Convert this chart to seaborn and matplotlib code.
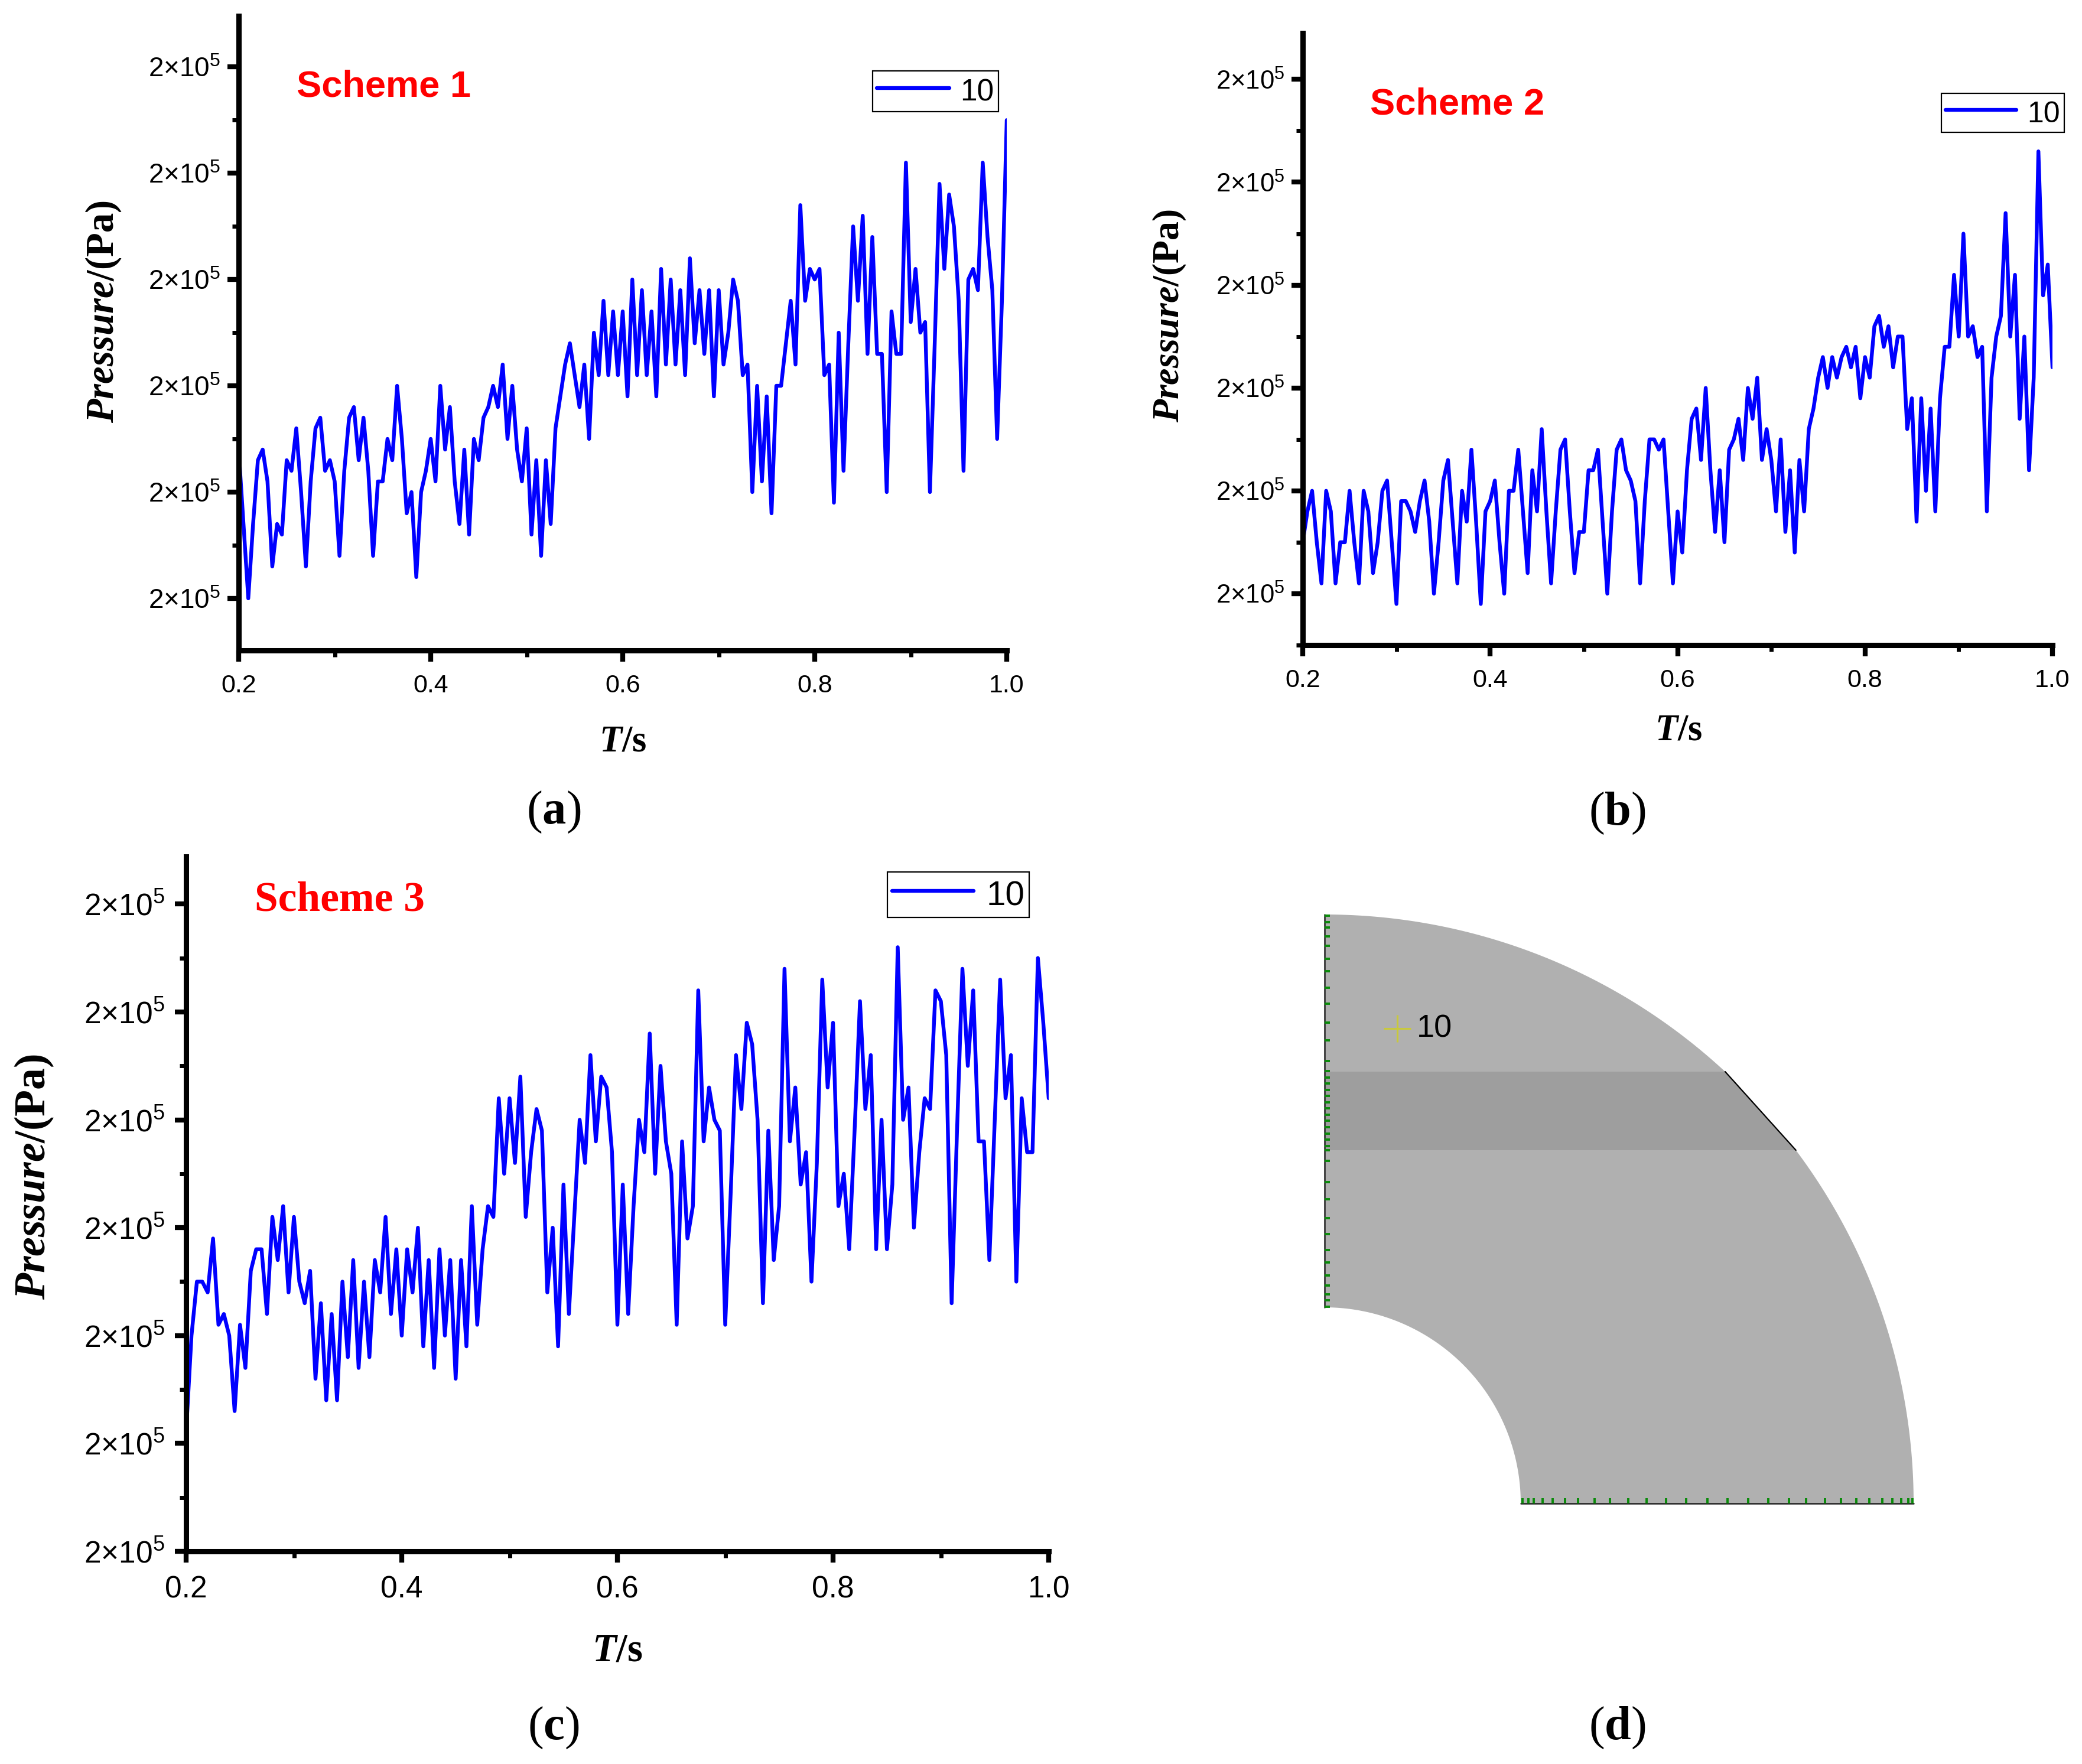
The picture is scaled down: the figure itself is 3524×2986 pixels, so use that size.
import matplotlib
matplotlib.use("Agg")
import matplotlib.pyplot as plt
from matplotlib.patches import Polygon
from matplotlib.ticker import FixedLocator
import numpy as np
import seaborn as sns

W, H = 3524, 2986

# pressure, in 100 Pa above the lowest labelled tick
pressure_a = [14, 7, 0, 7, 13, 14, 11, 3, 7, 6,
              13, 12, 16, 10, 3, 11, 16, 17, 12, 13,
              11, 4, 12, 17, 18, 13, 17, 12, 4, 11,
              11, 15, 13, 20, 15, 8, 10, 2, 10, 12,
              15, 11, 20, 14, 18, 11, 7, 14, 6, 15,
              13, 17, 18, 20, 18, 22, 15, 20, 14, 11,
              16, 6, 13, 4, 13, 7, 16, 19, 22, 24,
              21, 18, 22, 15, 25, 21, 28, 21, 27, 21,
              27, 19, 30, 21, 29, 21, 27, 19, 31, 22,
              30, 22, 29, 21, 32, 24, 29, 23, 29, 19,
              29, 22, 25, 30, 28, 21, 22, 10, 20, 11,
              19, 8, 20, 20, 24, 28, 22, 37, 28, 31,
              30, 31, 21, 22, 9, 25, 12, 24, 35, 28,
              36, 23, 34, 23, 23, 10, 27, 23, 23, 41,
              26, 31, 25, 26, 10, 24, 39, 31, 38, 35,
              28, 12, 30, 31, 29, 41, 34, 29, 15, 28, 45]
pressure_b = [5, 8, 10, 5, 1, 10, 8, 1, 5, 5,
              10, 5, 1, 10, 8, 2, 5, 10, 11, 5,
              -1, 9, 9, 8, 6, 9, 11, 7, 0, 5,
              11, 13, 7, 1, 10, 7, 14, 7, -1, 8,
              9, 11, 5, 0, 10, 10, 14, 8, 2, 12,
              8, 16, 8, 1, 8, 14, 15, 8, 2, 6,
              6, 12, 12, 14, 7, 0, 8, 14, 15, 12,
              11, 9, 1, 9, 15, 15, 14, 15, 8, 1,
              8, 4, 12, 17, 18, 13, 20, 12, 6, 12,
              5, 14, 15, 17, 13, 20, 17, 21, 13, 16,
              13, 8, 15, 6, 12, 4, 13, 8, 16, 18,
              21, 23, 20, 23, 21, 23, 24, 22, 24, 19,
              23, 21, 26, 27, 24, 26, 22, 25, 25, 16,
              19, 7, 19, 10, 18, 8, 19, 24, 24, 31,
              25, 35, 25, 26, 23, 24, 8, 21, 25, 27,
              37, 25, 31, 17, 25, 12, 21, 43, 29, 32, 22]
pressure_c = [11, 20, 25, 25, 24, 29, 21, 22, 20, 13,
              21, 17, 26, 28, 28, 22, 31, 27, 32, 24,
              31, 25, 23, 26, 16, 23, 14, 22, 14, 25,
              18, 27, 17, 25, 18, 27, 24, 31, 22, 28,
              20, 28, 24, 30, 19, 27, 17, 28, 20, 27,
              16, 27, 19, 32, 21, 28, 32, 31, 42, 35,
              42, 36, 44, 31, 37, 41, 39, 24, 30, 19,
              34, 22, 31, 40, 36, 46, 38, 44, 43, 37,
              21, 34, 22, 32, 40, 37, 48, 35, 45, 38,
              35, 21, 38, 29, 32, 52, 38, 43, 40, 39,
              21, 33, 46, 41, 49, 47, 40, 23, 39, 27,
              32, 54, 38, 43, 34, 37, 25, 36, 53, 43,
              49, 32, 35, 28, 39, 51, 41, 46, 28, 40,
              28, 34, 56, 40, 43, 30, 37, 42, 41, 52,
              51, 46, 23, 39, 54, 45, 52, 38, 38, 27,
              40, 53, 42, 46, 25, 42, 37, 37, 55, 49, 42]
time_s = np.linspace(0.2, 1.0, 161)

x_major = [0.2, 0.4, 0.6, 0.8, 1.0]
x_minor = [0.3, 0.5, 0.7, 0.9]
x_labels = ["0.2", "0.4", "0.6", "0.8", "1.0"]
y_label = "2×10$^{5}$"
legend_label = "10"

# panel d, mesh seeds along the two cut edges (distance from the centre)
seeds_left = [995, 984, 975, 960, 944, 922, 901, 873, 846, 814, 784, 749,
              732, 721, 711, 700, 690, 679, 669, 658, 648, 637, 626, 616, 605, 598,
              580, 544, 515, 483, 456, 429, 408, 386, 369, 354, 344, 333]
seeds_bottom = [335, 345, 354, 369, 386, 407, 429, 457, 483, 514, 545, 578, 612, 648,
                682, 717, 751, 786, 815, 847, 874, 900, 922, 944, 961, 976, 988, 995]
r_outer, r_inner = 997, 332
band_low, band_high = 598, 731
probe_x, probe_y = 123, 804

sns.set_theme(style="ticks")
plt.rcParams["font.family"] = ["Liberation Sans", "DejaVu Sans"]
plt.rcParams["mathtext.fontset"] = "custom"
plt.rcParams["mathtext.rm"] = "Liberation Sans"
plt.rcParams["mathtext.bf"] = "Liberation Serif:bold"
plt.rcParams["mathtext.bfit"] = "Liberation Serif:italic:bold"
plt.rcParams["mathtext.default"] = "regular"

fig = plt.figure(figsize=(W / 100, H / 100), dpi=100, facecolor="white")


def fx(x):
    return x / W


def fy(y):
    return 1 - y / H


def pressure_panel(values, box, ylim, y_major, xsize, ysize, xpad, ypad, legend_box, legend_size,
                   handle_len, handle_h):
    left, right, top, bottom = box
    ax = fig.add_axes([fx(left), fy(bottom), (right - left) / W, (bottom - top) / H])
    sns.lineplot(x=time_s, y=values, color="#0000ff", linewidth=4.6, ax=ax,
                 label=legend_label, errorbar=None)
    ax.set_xlim(0.2, 1.0)
    ax.set_ylim(*ylim)
    ax.set_xticks(x_major)
    ax.set_xticklabels(x_labels)
    ax.xaxis.set_minor_locator(FixedLocator(x_minor))
    ax.set_yticks(y_major)
    ax.set_yticklabels([y_label] * len(y_major))
    y_minor = [v + 5 for v in y_major] + [y_major[0] - 5]
    ax.yaxis.set_minor_locator(FixedLocator([v for v in y_minor if ylim[0] <= v <= ylim[1]]))
    sns.despine(ax=ax)
    for side in ["left", "bottom"]:
        ax.spines[side].set_linewidth(6.5)
        ax.spines[side].set_color("black")
    ax.tick_params(which="major", length=14, width=6, color="black")
    ax.tick_params(which="minor", length=8, width=5, color="black")
    ax.tick_params(axis="x", which="major", labelsize=xsize, pad=xpad, labelcolor="black")
    ax.tick_params(axis="y", which="major", labelsize=ysize, pad=ypad, labelcolor="black")

    lx, ly, lw, lh = legend_box
    leg = ax.legend(loc="lower left", bbox_to_anchor=(fx(lx), fy(ly + lh)),
                    bbox_transform=fig.transFigure, borderaxespad=0, fontsize=legend_size,
                    frameon=True, fancybox=False, edgecolor="black", framealpha=1,
                    handlelength=handle_len, handleheight=handle_h, handletextpad=0.36,
                    borderpad=0.14)
    leg.get_frame().set_linewidth(1.6)
    leg.get_texts()[0].set_color("black")
    return ax


pressure_panel(pressure_a, (404, 1704, 27, 1101), (-4.9, 54.8),
               [0, 10, 20, 30, 40, 50], 31, 33, 15, 8, (1477, 111, 212, 78), 37, 2.39, 1.2)
pressure_panel(pressure_b, (2205, 3474, 56, 1092), (-5, 54.5),
               [0, 10, 20, 30, 40, 50], 31, 31.5, 15, 8, (3286, 149, 206, 75), 36, 2.4, 1.2)
pressure_panel(pressure_c, (315, 1775, 1450, 2626), (0, 64.4),
               [0, 10, 20, 30, 40, 50, 60], 37, 37, 15, 12, (1502, 1467, 238, 86), 42, 2.37, 1.15)

# scheme captions
fig.text(fx(502), fy(147), "Scheme 1", color="#ff0000", fontsize=45.5, fontweight="bold",
         ha="left", va="center")
fig.text(fx(2319), fy(177), "Scheme 2", color="#ff0000", fontsize=45.5, fontweight="bold",
         ha="left", va="center")
fig.text(fx(431), fy(1524), "Scheme 3", color="#ff0000", fontsize=51.5, fontweight="bold",
         family="Liberation Serif", ha="left", va="center")

# axis titles
ylab = r"$\mathbfit{Pressure}$/(Pa)"
xlab = r"$\mathbfit{T}$/s"
for x, y, size in [(175, 528, 48), (1980, 534, 46), (58, 1992, 53)]:
    fig.text(fx(x), fy(y), ylab, rotation=90, fontsize=size, fontweight="bold",
             family="Liberation Serif", color="black", ha="center", va="center")
for x, y, size in [(1054, 1256, 45), (2841, 1238, 45), (1045, 2795, 48)]:
    fig.text(fx(x), fy(y), xlab, fontsize=size, fontweight="bold",
             family="Liberation Serif", color="black", ha="center", va="center")

# panel letters
for x, y, letter in [(937, 1375, "a"), (2737, 1377, "b"), (937, 2925, "c"), (2737, 2925, "d")]:
    fig.text(fx(x), fy(y), "($\\mathbf{" + letter + "}$)", fontsize=58,
             family="Liberation Serif", color="black", ha="center", va="center")

# panel d: quarter ring model, centre of the ring at (2242, 2545) in the image
ax_d = fig.add_axes([fx(2232), fy(2555), 1020 / W, 1020 / H])
ax_d.set_xlim(-10, 1010)
ax_d.set_ylim(-10, 1010)
ax_d.axis("off")

ang_low = np.arcsin(band_low / r_outer)
ang_high = np.arcsin(band_high / r_outer)
chord = [(r_outer * np.cos(ang_low), band_low), (r_outer * np.cos(ang_high), band_high)]
arc1 = np.linspace(0, ang_low, 60)
arc2 = np.linspace(ang_high, np.pi / 2, 80)
arc3 = np.linspace(np.pi / 2, 0, 80)
ring = (list(zip(r_outer * np.cos(arc1), r_outer * np.sin(arc1)))
        + list(zip(r_outer * np.cos(arc2), r_outer * np.sin(arc2)))
        + list(zip(r_inner * np.cos(arc3), r_inner * np.sin(arc3))))
ax_d.add_patch(Polygon(ring, closed=True, facecolor="#b0b0b0", edgecolor="none"))
ax_d.add_patch(Polygon([(0, band_low), chord[0], chord[1], (0, band_high)], closed=True,
                       facecolor="#9e9e9e", edgecolor="none"))
ax_d.plot([chord[0][0], chord[1][0]], [chord[0][1], chord[1][1]], color="black", lw=1.6)
ax_d.plot([0, 0], [r_inner, r_outer], color="#222222", lw=1.8)
ax_d.plot([r_inner, r_outer], [0, 0], color="#222222", lw=1.8)
ax_d.hlines(seeds_left, 0, 9, color="#0a8a0a", lw=2.8)
ax_d.vlines(seeds_bottom, 0, 9, color="#0a8a0a", lw=2.8)
ax_d.plot([probe_x], [probe_y], marker="+", ms=33, mew=2.2, color="#c9c93c", ls="none")
ax_d.text(probe_x + 33, probe_y, legend_label, fontsize=39, color="black", ha="left", va="center")

fig.savefig("out.png", dpi=100, facecolor="white")
